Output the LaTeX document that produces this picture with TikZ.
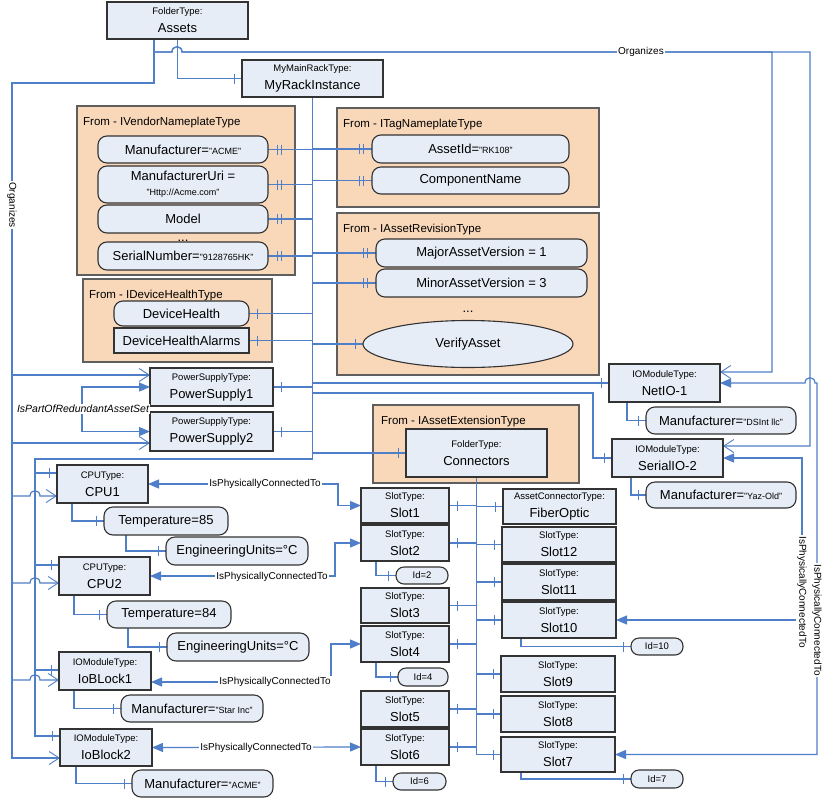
\documentclass[tikz,border=0pt]{standalone}
\usepackage{fontspec}
\setmainfont{Liberation Sans}
\usetikzlibrary{arrows.meta,shapes.geometric,decorations.markings}
\definecolor{boxc}{HTML}{E7EDF7}
\definecolor{contc}{HTML}{F9D7B9}
\definecolor{bordc}{HTML}{333333}
\definecolor{contb}{HTML}{5E5E5E}
\definecolor{linec}{HTML}{4F7FC8}
\newcommand\ftl{\fontsize{9.5}{11}\selectfont}
\newcommand\flab{\fontsize{10}{11}\selectfont}
\newcommand\fqt{\fontsize{9}{10}\selectfont}
\newcommand\fmain{\fontsize{13}{18}\selectfont}
\newcommand\fct{\fontsize{11.5}{13}\selectfont}
\pgfdeclarelayer{bgl}
\pgfdeclarelayer{lnl}
\pgfsetlayers{bgl,lnl,main}
\tikzset{
  boxn/.style={draw=bordc,fill=boxc,line width=1.1pt,inner sep=0pt,outer sep=0pt,align=center,font=\fmain},
  pill/.style={boxn,rounded corners=9pt},
  idpill/.style={boxn,rounded corners=8pt,font=\ftl},
  cont/.style={draw=contb,fill=contc,line width=1.1pt,inner sep=0pt,outer sep=0pt},
  ctitle/.style={anchor=base west,font=\fct,inner sep=0pt},
  conn/.style={draw=linec,line width=1.2pt},
  trunkline/.style={draw=linec,line width=1.9pt},
  lab/.style={fill=white,inner sep=1pt,font=\flab},
  onetk/.style={postaction={decorate,decoration={markings,mark=at position -8pt with {\draw[-,linec,line width=1pt] (0,-5pt)--(0,5pt);}}}},
  twotk/.style={postaction={decorate,decoration={markings,mark=at position -9pt with {\draw[-,linec,line width=1pt] (0,-5pt)--(0,5pt);},mark=at position -13pt with {\draw[-,linec,line width=1pt] (0,-5pt)--(0,5pt);}}}},
  openarr/.style={->,>={Straight Barb[length=10pt,width=13pt,line width=0.9pt]}},
  fillarr/.style={<->,>={Triangle[length=11pt,width=9pt]}},
}
\newcommand\mkbox[7]{\node[boxn,minimum width=#4pt,minimum height=#5pt,anchor=north west] (#1) at (#2,#3) {{\ftl #6}\\#7};}
\newcommand\mkpill[6]{\node[pill,minimum width=#4pt,minimum height=#5pt,anchor=north west] (#1) at (#2,#3) {#6};}
\newcommand\mkid[6]{\node[idpill,minimum width=#4pt,minimum height=#5pt,anchor=north west] (#1) at (#2,#3) {#6};}
\newcommand\mkcont[5]{\node[cont,minimum width=#4pt,minimum height=#5pt,anchor=north west] (#1) at (#2,#3) {};}
\begin{document}
\begin{tikzpicture}[x=1pt,y=-1pt]
\useasboundingbox (0,0) rectangle (827,798);
\begin{pgfonlayer}{bgl}
\fill[white] (0,0) rectangle (827,798);
\mkcont{cvend}{77}{106}{218}{169}
\mkcont{cdev}{83}{279}{189}{83}
\mkcont{ctag}{337}{108}{262}{99}
\mkcont{crev}{337}{213}{262}{162}
\mkcont{cext}{373}{405}{206}{78}
\end{pgfonlayer}
\node[ctitle] (tvend) at (83,125) {From - IVendorNameplateType};
\node[ctitle] (tdev) at (89,298) {From - IDeviceHealthType};
\node[ctitle] (ttag) at (343,127) {From - ITagNameplateType};
\node[ctitle] (trev) at (343,232) {From - IAssetRevisionType};
\node[ctitle] (text) at (381,424) {From - IAssetExtensionType};
% boxes
\mkbox{assets}{107}{2}{141}{37}{FolderType:}{Assets}
\mkbox{rack}{242}{60}{141}{37}{MyMainRackType:}{MyRackInstance}
\mkbox{psa}{150}{368}{123}{38}{PowerSupplyType:}{PowerSupply1}
\mkbox{psb}{150}{412}{123}{39}{PowerSupplyType:}{PowerSupply2}
\mkbox{netio}{609}{364}{111}{38}{IOModuleType:}{NetIO-1}
\mkbox{serio}{612}{439}{111}{38}{IOModuleType:}{SerialIO-2}
\mkbox{connf}{406}{429}{141}{48}{FolderType:}{Connectors}
\mkbox{cpua}{57}{465}{91}{38}{CPUType:}{CPU1}
\mkbox{cpub}{59}{557}{91}{38}{CPUType:}{CPU2}
\mkbox{ioba}{59}{652}{92}{38}{IOModuleType:}{IoBLock1}
\mkbox{iobb}{60}{729}{92}{37}{IOModuleType:}{IoBlock2}
\mkbox{slota}{361}{488}{88}{35}{SlotType:}{Slot1}
\mkbox{slotb}{361}{525}{88}{36}{SlotType:}{Slot2}
\mkbox{slotc}{361}{588}{88}{35}{SlotType:}{Slot3}
\mkbox{slotd}{361}{626}{88}{36}{SlotType:}{Slot4}
\mkbox{slote}{361}{691}{88}{36}{SlotType:}{Slot5}
\mkbox{slotf}{361}{729}{88}{36}{SlotType:}{Slot6}
\mkbox{fiber}{503}{489}{113}{35}{AssetConnectorType:}{FiberOptic}
\mkbox{slotl}{502}{527}{114}{35}{SlotType:}{Slot12}
\mkbox{slotk}{502}{564}{114}{36}{SlotType:}{Slot11}
\mkbox{slotj}{502}{602}{114}{36}{SlotType:}{Slot10}
\mkbox{sloti}{501}{656}{114}{36}{SlotType:}{Slot9}
\mkbox{sloth}{501}{696}{114}{36}{SlotType:}{Slot8}
\mkbox{slotg}{501}{737}{114}{35}{SlotType:}{Slot7}
\node[boxn,minimum width=135pt,minimum height=25pt,anchor=north west] (dha) at (114,328) {DeviceHealthAlarms};
% pills
\mkpill{mfr}{98}{136}{170}{27}{Manufacturer={\fqt"ACME"}}
\mkpill{mfruri}{98}{166}{170}{37}{ManufacturerUri =\\[-3pt]{\fqt"Http://Acme.com"}}
\mkpill{model}{98}{205}{170}{28}{Model}
\mkpill{serial}{98}{242}{170}{28}{SerialNumber={\fqt"9128765HK"}}
\mkpill{devh}{114}{301}{135}{25}{DeviceHealth}
\mkpill{assetid}{372}{135}{197}{28}{AssetId={\fqt"RK108"}}
\mkpill{compname}{372}{167}{197}{27}{ComponentName}
\mkpill{major}{376}{239}{211}{28}{MajorAssetVersion = 1}
\mkpill{minor}{376}{269}{211}{28}{MinorAssetVersion = 3}
\node[ellipse,draw=bordc,fill=boxc,line width=1.1pt,minimum width=210pt,minimum height=47pt,inner sep=0pt,outer sep=0pt,font=\fmain] (verify) at (468,344) {VerifyAsset};
\mkpill{netmfr}{646}{407}{150}{27}{Manufacturer={\fqt"DSInt llc"}}
\mkpill{sermfr}{646}{482}{150}{26}{Manufacturer={\fqt"Yaz-Old"}}
\mkpill{tempa}{104}{507}{124}{28}{Temperature=85}
\mkpill{eua}{166}{537}{142}{28}{EngineeringUnits=°C}
\mkpill{tempb}{107}{601}{124}{27}{Temperature=84}
\mkpill{eub}{167}{633}{142}{28}{EngineeringUnits=°C}
\mkpill{mfra}{121}{695}{142}{27}{Manufacturer={\fqt"Star Inc"}}
\mkpill{mfrb}{132}{770}{141}{27}{Manufacturer={\fqt"ACME"}}
\mkid{ida}{396}{567}{52}{17}{Id=2}
\mkid{idb}{398}{668}{50}{18}{Id=4}
\mkid{idc}{393}{773}{53}{17}{Id=6}
\mkid{idd}{631}{638}{52}{17}{Id=10}
\mkid{ide}{631}{770}{52}{18}{Id=7}
\node[anchor=base,font=\fmain,inner sep=0pt] (dotsa) at (183,241) {...};
\node[anchor=base,font=\fmain,inner sep=0pt] (dotsb) at (468,312) {...};
% connectors
\begin{pgfonlayer}{lnl}
% Organizes (thick left)
\draw[trunkline,line width=2.2pt] ([xshift=-23.5pt]assets.south) -- (154,83) -- (12,83) -- (12,758);
\draw[conn,openarr] ([xshift=-23.5pt]assets.south) -- (154,83) -- (12,83) |- ([yshift=12pt]psa.west);
\draw[conn,openarr] ([xshift=-23.5pt]assets.south) -- (154,83) -- (12,83) |- ([yshift=-11.5pt]psb.west);
\draw[conn,openarr] ([xshift=-23.5pt]assets.south) -- (154,83) -- (12,83) -- (12,496) -- (30,496) .. controls (30,489) and (40,489) .. (40,496) -- ([yshift=-12pt]cpua.west);
\draw[conn,openarr] ([xshift=-23.5pt]assets.south) -- (154,83) -- (12,83) -- (12,583) -- (30,583) .. controls (30,576) and (40,576) .. (40,583) -- ([yshift=-7pt]cpub.west);
\draw[conn,openarr] ([xshift=-23.5pt]assets.south) -- (154,83) -- (12,83) -- (12,680) -- (30,680) .. controls (30,673) and (40,673) .. (40,680) -- ([yshift=-9pt]ioba.west);
\draw[conn,openarr] ([xshift=-23.5pt]assets.south) -- (154,83) -- (12,83) |- ([yshift=-10.5pt]iobb.west);
% Organizes (top)
\draw[conn,openarr] ([xshift=-23.5pt,yshift=-13pt]assets.south) -- (172,52) .. controls (172,45) and (182,45) .. (182,52) -- (772,52) |- ([yshift=11pt]netio.east);
\draw[conn,openarr] ([xshift=-23.5pt,yshift=-13pt]assets.south) -- (172,52) .. controls (172,45) and (182,45) .. (182,52) -- (810,52) |- ([yshift=12pt]serio.east);
% Assets -> rack
\draw[conn,onetk] (assets.south) |- (rack.west);
% rack trunk
\draw[trunkline] (rack.south) -- (312.5,459) -- (35,459) -- (35,736);
\draw[conn,twotk] (rack.south) |- (mfr.east);
\draw[conn,twotk] (rack.south) |- (mfruri.east);
\draw[conn,twotk] (rack.south) |- (model.east);
\draw[conn,twotk] (rack.south) |- (serial.east);
\draw[conn,onetk,line width=1.9pt] (rack.south) |- (devh.east);
\draw[conn,onetk,line width=1.9pt] (rack.south) |- (dha.east);
\draw[conn,onetk] (rack.south) |- (psa.east);
\draw[conn,onetk] (rack.south) |- (psb.east);
\draw[conn,twotk] (rack.south) |- (assetid.west);
\draw[conn,twotk] (rack.south) |- (compname.west);
\draw[conn,twotk] (rack.south) |- (major.west);
\draw[conn,twotk] (rack.south) |- (minor.west);
\draw[conn,onetk] (rack.south) |- (verify.west);
\draw[conn,onetk] (rack.south) |- (netio.west);
\draw[conn,onetk] (rack.south) |- (593,393) |- (serio.west);
\draw[conn,onetk] (rack.south) |- (connf.west);
\draw[conn,onetk] (rack.south) |- (35,459) |- ([yshift=11pt]cpua.west);
\draw[conn,onetk] (rack.south) |- (35,459) |- ([yshift=11pt]cpub.west);
\draw[conn,onetk] (rack.south) |- (35,459) |- ([yshift=1pt]ioba.west);
\draw[conn,onetk] (rack.south) |- (35,459) |- ([yshift=11.5pt]iobb.west);
% sub properties
\draw[conn,onetk] ([xshift=-37.5pt]netio.south) |- (netmfr.west);
\draw[conn,onetk] ([xshift=-36.5pt]serio.south) |- (sermfr.west);
\draw[conn,onetk] ([xshift=-30.5pt]cpua.south) |- (tempa.west);
\draw[conn,onetk] ([xshift=-40pt]tempa.south) |- (eua.west);
\draw[conn,onetk] ([xshift=-30.5pt]cpub.south) |- (tempb.west);
\draw[conn,onetk] ([xshift=-41pt]tempb.south) |- (eub.west);
\draw[conn,onetk] ([xshift=-31pt]ioba.south) |- (mfra.west);
\draw[conn,onetk] ([xshift=-30pt]iobb.south) |- (mfrb.west);
\draw[conn,onetk] ([xshift=-29pt]slotb.south) |- (ida.west);
\draw[conn,onetk] ([xshift=-29pt]slotd.south) |- (idb.west);
\draw[conn,onetk] ([xshift=-29pt]slotf.south) |- (idc.west);
\draw[conn,onetk] ([xshift=-38pt]slotj.south) |- (idd.west);
\draw[conn,onetk] ([xshift=-37pt]slotg.south) |- (ide.west);
% slot bus
\draw[conn,onetk] (connf.south) |- (slota.east);
\draw[conn,onetk] (connf.south) |- (slotb.east);
\draw[conn,onetk] (connf.south) |- (slotc.east);
\draw[conn,onetk] (connf.south) |- (slotd.east);
\draw[conn,onetk] (connf.south) |- (slote.east);
\draw[conn,onetk] (connf.south) |- (slotf.east);
\draw[conn,onetk] (connf.south) |- (fiber.west);
\draw[conn,onetk] (connf.south) |- (slotl.west);
\draw[conn,onetk] (connf.south) |- (slotk.west);
\draw[conn,onetk] (connf.south) |- (slotj.west);
\draw[conn,onetk] (connf.south) |- (sloti.west);
\draw[conn,onetk] (connf.south) |- (sloth.west);
\draw[conn,onetk] (connf.south) |- (slotg.west);
% physically connected
\draw[conn,fillarr] (cpua.east) -- (338,484) |- (slota.west);
\draw[conn,fillarr] (cpub.east) -- (335,576) |- (slotb.west);
\draw[conn,fillarr] ([yshift=-11pt]ioba.east) -- (331,682) |- (slotd.west);
\draw[conn,fillarr] (iobb.east) -- (slotf.west);
\draw[conn,fillarr] (netio.east) -- (805,383) .. controls (805,376) and (815,376) .. (815,383) -- (817,383) |- (slotg.east);
\draw[conn,fillarr] (serio.east) -- (802,458) |- (slotj.east);
\draw[conn,fillarr] (psa.west) -- (82,387) |- (psb.west);
\end{pgfonlayer}
% labels
\node[lab] (orgtop) at (641,52) {Organizes};
\node[lab,rotate=-90] (orgleft) at (12,205) {Organizes};
\node[lab,font=\fontsize{10.5}{12}\selectfont\itshape] (redund) at (83,409) {IsPartOfRedundantAssetSet};
\node[lab] (pca) at (265,484) {IsPhysicallyConnectedTo};
\node[lab] (pcb) at (272,577) {IsPhysicallyConnectedTo};
\node[lab] (pcc) at (275,682) {IsPhysicallyConnectedTo};
\node[lab] (pcd) at (256,748) {IsPhysicallyConnectedTo};
\node[lab,rotate=-90] (pce) at (817,620) {IsPhysicallyConnectedTo};
\node[lab,rotate=-90] (pcf) at (802,592) {IsPhysicallyConnectedTo};
\end{tikzpicture}
\end{document}
